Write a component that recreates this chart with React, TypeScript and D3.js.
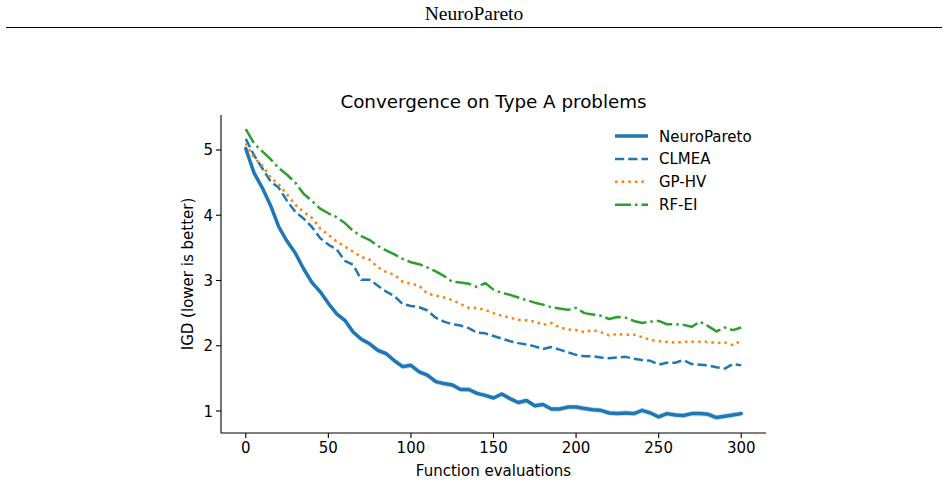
import React from "react";
import * as d3 from "d3";

// Function evaluations sampled every 5 steps (0..300)
const evaluations: number[] = d3.range(0, 301, 5);

const neuroPareto: number[] = [
  5.02, 4.65, 4.42, 4.15, 3.82, 3.6, 3.42, 3.18, 2.97, 2.83,
  2.65, 2.49, 2.39, 2.21, 2.1, 2.03, 1.93, 1.88, 1.77, 1.68,
  1.7, 1.6, 1.55, 1.45, 1.42, 1.4, 1.33, 1.33, 1.27, 1.24,
  1.2, 1.26, 1.19, 1.13, 1.16, 1.08, 1.1, 1.03, 1.03, 1.06,
  1.06, 1.04, 1.02, 1.01, 0.97, 0.96, 0.97, 0.96, 1.01, 0.97,
  0.91, 0.96, 0.94, 0.93, 0.96, 0.96, 0.95, 0.9, 0.92, 0.94, 0.96,
];

const clmea: number[] = [
  5.17, 4.92, 4.72, 4.52, 4.42, 4.22, 4.05, 3.95, 3.82, 3.65,
  3.55, 3.48, 3.3, 3.24, 3.01, 3.01, 2.92, 2.83, 2.76, 2.64,
  2.61, 2.59, 2.54, 2.43, 2.37, 2.33, 2.31, 2.27, 2.2, 2.19,
  2.15, 2.11, 2.07, 2.04, 2.02, 1.99, 1.95, 1.98, 1.94, 1.9,
  1.86, 1.84, 1.84, 1.82, 1.81, 1.82, 1.83, 1.8, 1.78, 1.77,
  1.71, 1.74, 1.74, 1.78, 1.72, 1.71, 1.7, 1.67, 1.65, 1.72, 1.7,
];

const gpHv: number[] = [
  5.1, 4.88, 4.76, 4.58, 4.47, 4.32, 4.16, 4.05, 3.96, 3.8,
  3.7, 3.6, 3.52, 3.44, 3.36, 3.32, 3.2, 3.13, 3.09, 2.98,
  2.95, 2.92, 2.8, 2.77, 2.74, 2.7, 2.64, 2.58, 2.58, 2.55,
  2.5, 2.46, 2.43, 2.4, 2.39, 2.37, 2.32, 2.35, 2.28, 2.25,
  2.24, 2.21, 2.24, 2.21, 2.16, 2.18, 2.17, 2.17, 2.13, 2.09,
  2.07, 2.06, 2.05, 2.06, 2.06, 2.06, 2.06, 2.04, 2.05, 2.01, 2.08,
];

const rfEi: number[] = [
  5.32, 5.1, 4.98, 4.86, 4.72, 4.62, 4.5, 4.33, 4.22, 4.1,
  4.03, 3.97, 3.88, 3.76, 3.68, 3.62, 3.53, 3.46, 3.4, 3.33,
  3.28, 3.25, 3.2, 3.14, 3.07, 2.98, 2.97, 2.95, 2.9, 2.96,
  2.86, 2.81, 2.78, 2.74, 2.7, 2.66, 2.63, 2.59, 2.57, 2.55,
  2.58, 2.5, 2.48, 2.46, 2.41, 2.44, 2.43, 2.38, 2.35, 2.37,
  2.38, 2.33, 2.33, 2.32, 2.29, 2.37, 2.3, 2.22, 2.28, 2.24, 2.28,
];

// Half-width of the shaded spread around the NeuroPareto mean
const neuroParetoSpread = 0.04;

const xTicks: number[] = [0, 50, 100, 150, 200, 250, 300];
const yTicks: number[] = [1, 2, 3, 4, 5];

const seriesNames: string[] = ["NeuroPareto", "CLMEA", "GP-HV", "RF-EI"];

const W = 948;
const H = 482;
const M = { left: 221, right: 766, top: 115, bottom: 433 };
const SANS = "'DejaVu Sans', sans-serif";
const LABEL_SIZE = 15;

export default function App() {
  const x = d3.scaleLinear().domain([-15, 315]).range([M.left, M.right]);
  const y = d3.scaleLinear().domain([0.663, 5.536]).range([M.bottom, M.top]);

  const line = d3
    .line<number>()
    .x((_, i) => x(evaluations[i]))
    .y((d) => y(d));

  const band = d3
    .area<number>()
    .x((_, i) => x(evaluations[i]))
    .y0((d) => y(d - neuroParetoSpread))
    .y1((d) => y(d + neuroParetoSpread));

  const styles = [
    { data: neuroPareto, color: "#1f77b4", width: 3.5, dash: "" },
    { data: clmea, color: "#1f77b4", width: 2.5, dash: "9.25,4" },
    { data: gpHv, color: "#ff7f0e", width: 2.5, dash: "2.5,4.1" },
    { data: rfEi, color: "#2ca02c", width: 2.5, dash: "16,4,2.5,4" },
  ];

  const legendX = 615;
  const legendY0 = 136;
  const legendStep = 22.9;

  return (
    <svg
      width={W}
      height={H}
      style={{ position: "absolute", left: 0, top: 0, background: "#fff" }}
    >
      <text
        x={474}
        y={20}
        textAnchor="middle"
        fontFamily="'Liberation Serif', 'Times New Roman', serif"
        fontSize={19.5}
        fill="#000"
      >
        NeuroPareto
      </text>
      <line x1={6} x2={942} y1={27.5} y2={27.5} stroke="#000" strokeWidth={1.2} />

      <text
        x={(M.left + M.right) / 2}
        y={108}
        textAnchor="middle"
        fontFamily={SANS}
        fontSize={18.3}
        fill="#000"
      >
        Convergence on Type A problems
      </text>

      <path d={band(neuroPareto) ?? ""} fill="#1f77b4" fillOpacity={0.25} stroke="none" />

      {styles.map((s, i) => (
        <path
          key={seriesNames[i]}
          d={line(s.data) ?? ""}
          fill="none"
          stroke={s.color}
          strokeWidth={s.width}
          strokeDasharray={s.dash || undefined}
          strokeLinejoin="round"
          strokeLinecap={s.dash ? "butt" : "round"}
        />
      ))}

      {/* axes */}
      <line x1={M.left} x2={M.left} y1={M.top} y2={M.bottom} stroke="#000" strokeWidth={1.1} />
      <line x1={M.left} x2={M.right} y1={M.bottom} y2={M.bottom} stroke="#000" strokeWidth={1.1} />

      {xTicks.map((t) => (
        <g key={`x${t}`}>
          <line x1={x(t)} x2={x(t)} y1={M.bottom} y2={M.bottom + 5} stroke="#000" strokeWidth={1.1} />
          <text
            x={x(t)}
            y={M.bottom + 20}
            textAnchor="middle"
            fontFamily={SANS}
            fontSize={LABEL_SIZE}
            fill="#000"
          >
            {t}
          </text>
        </g>
      ))}

      {yTicks.map((t) => (
        <g key={`y${t}`}>
          <line x1={M.left - 5} x2={M.left} y1={y(t)} y2={y(t)} stroke="#000" strokeWidth={1.1} />
          <text
            x={M.left - 8}
            y={y(t) + 5.5}
            textAnchor="end"
            fontFamily={SANS}
            fontSize={LABEL_SIZE}
            fill="#000"
          >
            {t}
          </text>
        </g>
      ))}

      <text
        x={(M.left + M.right) / 2}
        y={476}
        textAnchor="middle"
        fontFamily={SANS}
        fontSize={LABEL_SIZE}
        fill="#000"
      >
        Function evaluations
      </text>
      <text
        transform={`translate(193, ${(M.top + M.bottom) / 2}) rotate(-90)`}
        textAnchor="middle"
        fontFamily={SANS}
        fontSize={LABEL_SIZE}
        fill="#000"
      >
        IGD (lower is better)
      </text>

      {/* legend */}
      {styles.map((s, i) => {
        const ly = legendY0 + i * legendStep;
        return (
          <g key={`lg${i}`}>
            <line
              x1={legendX}
              x2={legendX + 33}
              y1={ly}
              y2={ly}
              stroke={s.color}
              strokeWidth={s.width}
              strokeDasharray={s.dash || undefined}
            />
            <text
              x={659}
              y={ly + 5.5}
              fontFamily={SANS}
              fontSize={LABEL_SIZE}
              fill="#000"
            >
              {seriesNames[i]}
            </text>
          </g>
        );
      })}
    </svg>
  );
}
